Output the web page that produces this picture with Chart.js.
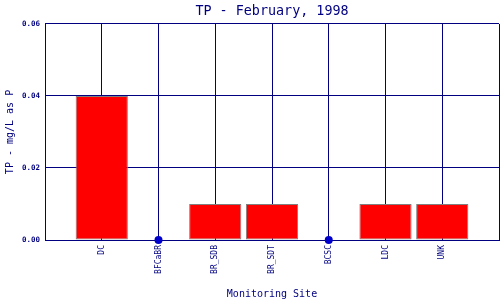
<!DOCTYPE html>
<html>
<head>
<meta charset="utf-8">
<script src="https://cdn.jsdelivr.net/npm/chart.js@4/dist/chart.umd.min.js"></script>
<style>
html,body{margin:0;padding:0;background:#fff;}
#wrap{width:500px;height:300px;position:relative;}
</style>
</head>
<body>
<div id="wrap"><canvas id="c" width="500" height="300"></canvas></div>
<script>
const sites = ['DC', 'BFCaBR', 'BR_SDB', 'BR_SDT', 'BCSC', 'LDC', 'UNK'];
const tpValues = [0.04, 0, 0.01, 0.01, 0, 0.01, 0.01];
const yTicks = [0, 0.02, 0.04, 0.06];

const NAVY = '#000080';
const MONO = '"DejaVu Sans Mono", "Liberation Mono", monospace';

const labels = [''].concat(sites, ['']);
const barData = [null].concat(tpValues.map(v => v > 0 ? v : null), [null]);
const dotData = [null].concat(tpValues.map(v => v === 0 ? v : null), [null]);

const zeroPad = () => ({ left: 0, right: 0, top: 0, bottom: 0 });

new Chart(document.getElementById('c'), {
  type: 'bar',
  data: {
    labels: labels,
    datasets: [
      {
        type: 'line',
        data: dotData,
        showLine: false,
        pointRadius: 4,
        pointHoverRadius: 4,
        pointBackgroundColor: '#0000cc',
        pointBorderColor: '#0000cc',
        pointBorderWidth: 0,
        order: 0,
        clip: false
      },
      {
        data: barData,
        backgroundColor: '#ff0000',
        borderColor: '#808080',
        borderWidth: 1,
        borderSkipped: false,
        categoryPercentage: 1,
        barPercentage: 0.92,
        order: 1
      }
    ]
  },
  options: {
    responsive: false,
    animation: false,
    devicePixelRatio: 1,
    layout: { autoPadding: false, padding: { left: 0, right: 1, top: 0, bottom: 0 } },
    plugins: {
      legend: { display: false },
      tooltip: { enabled: false },
      title: {
        display: true,
        fullSize: false,
        text: 'TP - February, 1998',
        color: NAVY,
        font: { family: MONO, size: 13.4, weight: 'normal', lineHeight: 1.2 },
        padding: { top: 3, bottom: 4.9 }
      }
    },
    scales: {
      x: {
        offset: false,
        grid: { color: NAVY, lineWidth: 1, drawTicks: false, offset: false },
        border: { color: NAVY, width: 1 },
        ticks: {
          color: NAVY,
          font: { family: MONO, size: 8 },
          minRotation: 90,
          maxRotation: 90,
          autoSkip: false,
          padding: 5
        },
        title: {
          display: true,
          text: 'Monitoring Site',
          color: NAVY,
          font: { family: MONO, size: 10, lineHeight: 1.2 },
          padding: 0
        },
        afterFit: s => { s.height = 60; s.paddingLeft = 0; s.paddingRight = 0; s.getPadding = zeroPad; }
      },
      y: {
        min: 0,
        max: 0.06,
        afterBuildTicks: s => { s.ticks = yTicks.map(v => ({ value: v })); },
        grid: { color: NAVY, lineWidth: 1, drawTicks: false },
        border: { color: NAVY, width: 1 },
        ticks: {
          color: NAVY,
          font: { family: MONO, size: 7.5, weight: 'bold' },
          padding: 5,
          callback: v => Number(v).toFixed(2)
        },
        title: {
          display: true,
          text: 'TP - mg/L as P',
          color: NAVY,
          font: { family: MONO, size: 10, lineHeight: 1.2 },
          padding: { top: 4, bottom: 0 }
        },
        afterFit: s => { s.width = 45; s.paddingTop = 0; s.paddingBottom = 0; s.getPadding = zeroPad; }
      }
    }
  }
});
</script>
</body>
</html>
